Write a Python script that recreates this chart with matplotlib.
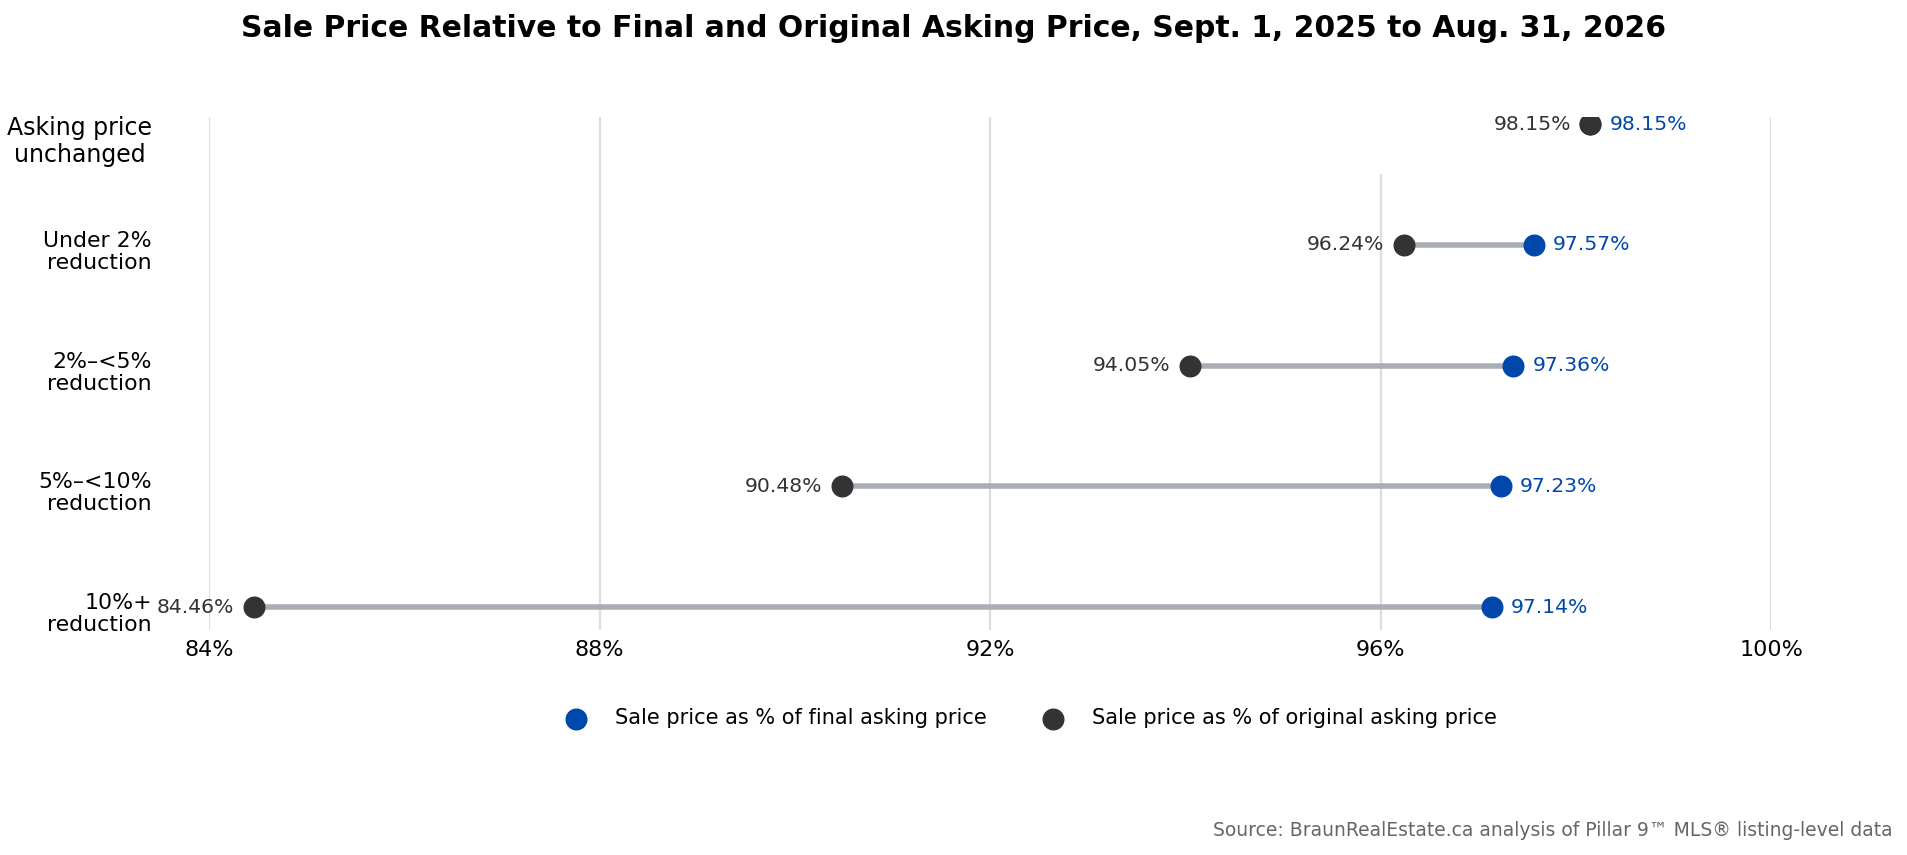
import matplotlib
matplotlib.use("Agg")
import matplotlib.pyplot as plt
from matplotlib.transforms import ScaledTranslation

# data
categories = ["Asking price\nunchanged", "Under 2%\nreduction", "2%\u2013<5%\nreduction",
              "5%\u2013<10%\nreduction", "10%+\nreduction"]
final_pct = [98.15, 97.57, 97.36, 97.23, 97.14]
original_pct = [98.15, 96.24, 94.05, 90.48, 84.46]
x_ticks = [84, 88, 92, 96, 100]

BLUE = "#0047AB"
DARK = "#333333"
LINE = "#A9AEB5"
GRID = "#DDDDDD"

fig = plt.figure(figsize=(19.08, 8.55), dpi=100)
ax = fig.add_axes([209 / 1908, 1 - 630 / 855, (1771 - 209) / 1908, 513 / 855])

ypos = list(range(len(categories)))

# vertical guides (the 96% one starts lower in the original)
for t in x_ticks:
    top = 0.887 if t == 96 else 1.0
    ax.axvline(t, ymin=0, ymax=top, color=GRID, lw=1.6, zorder=0)

ax.hlines(ypos, original_pct, final_pct, color=LINE, lw=4, zorder=1)
ax.scatter(final_pct, ypos, s=220, color=BLUE, zorder=3,
           label="Sale price as % of final asking price")
ax.scatter(original_pct, ypos, s=220, color=DARK, zorder=4,
           label="Sale price as % of original asking price")

for y, f, o in zip(ypos, final_pct, original_pct):
    ax.annotate(f"{f:.2f}%", (f, y), xytext=(14, 0), textcoords="offset points",
                ha="left", va="center", fontsize=14.7, color=BLUE, annotation_clip=False)
    ax.annotate(f"{o:.2f}%", (o, y), xytext=(-14, 0), textcoords="offset points",
                ha="right", va="center", fontsize=14.7, color=DARK, annotation_clip=False)

ax.set_xlim(84, 100)
ax.set_ylim(4.19, -0.06)
ax.set_xticks(x_ticks)
ax.set_xticklabels([f"{t}%" for t in x_ticks], fontsize=16)
ax.set_yticks(ypos)
ax.set_yticklabels(categories, fontsize=15.8, linespacing=1.12)
ax.tick_params(axis="both", length=0)
ax.tick_params(axis="x", pad=7)
ax.tick_params(axis="y", pad=41)
for i, lab in enumerate(ax.get_yticklabels()):
    dy = 0.04 if i else 0.135
    lab.set_transform(lab.get_transform() + ScaledTranslation(0, -dy, fig.dpi_scale_trans))
first = ax.get_yticklabels()[0]
first.set_fontsize(17)
first.set_multialignment("center")
for s in ax.spines.values():
    s.set_visible(False)

fig.suptitle("Sale Price Relative to Final and Original Asking Price, Sept. 1, 2025 to Aug. 31, 2026",
             fontsize=21.5, fontweight="bold", x=954 / 1908, y=1 - 14 / 855, va="top")

handles, labels = ax.get_legend_handles_labels()
fig.legend(handles, labels, loc="center", bbox_to_anchor=(1031 / 1908, 1 - 718 / 855),
           ncol=2, frameon=False, fontsize=15, handlelength=1.0,
           columnspacing=2.7, handletextpad=1.37)

fig.text(1893 / 1908, 1 - 830 / 855,
         "Source: BraunRealEstate.ca analysis of Pillar 9\u2122 MLS\u00ae listing-level data",
         ha="right", va="center", fontsize=13.5, color="#666666")

fig.savefig("out.png", dpi=100, facecolor="white")
